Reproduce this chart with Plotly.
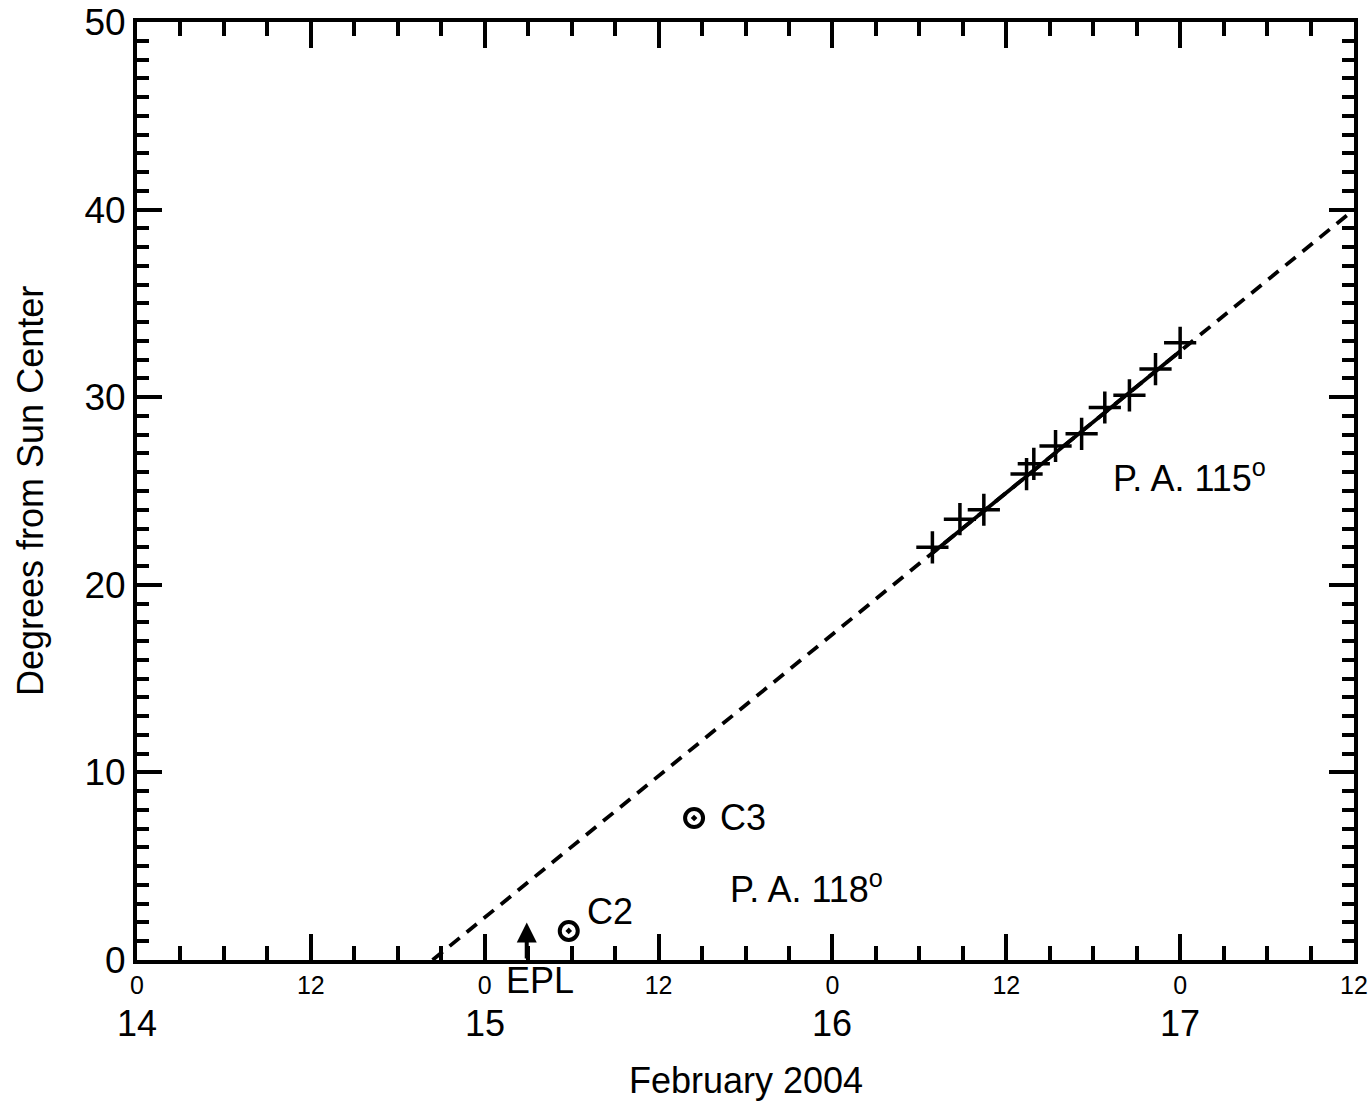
import plotly.graph_objects as go

# hours since 14 Feb 2004 00:00 UT
obs_hours = [54.9, 56.8, 58.45, 61.4, 61.9, 63.4, 65.2, 66.8, 68.5, 70.3, 72.0]
obs_elong = [22.0, 23.5, 24.0, 25.9, 26.45, 27.4, 28.05, 29.45, 30.1, 31.5, 32.9]

fit_hours = [20.4, 84.0]
fit_elong = [0.0, 40.0]
solid_hours = [54.9, 72.0]
solid_elong = [21.7, 32.45]

lasco_hours = [29.8, 38.45]
lasco_elong = [1.55, 7.57]
lasco_names = ["C2", "C3"]

epl_hour = 26.9
epl_tip = 2.0

hour_ticks = list(range(0, 85, 12))
hour_labels = ["0", "12", "0", "12", "0", "12", "0", "12"]
day_ticks = [0, 24, 48, 72]
day_labels = ["14", "15", "16", "17"]

FONT = "Liberation Sans, Arial, sans-serif"
BIG = 36
label_offsets = {"C2": (16, 19), "C3": (24, 0)}

fig = go.Figure()
fig.add_trace(go.Scatter(x=fit_hours, y=fit_elong, mode="lines",
                         line=dict(color="black", width=3.8, dash="13px,9px"),
                         showlegend=False, hoverinfo="skip"))
fig.add_trace(go.Scatter(x=solid_hours, y=solid_elong, mode="lines",
                         line=dict(color="black", width=3.8),
                         showlegend=False, hoverinfo="skip"))
fig.add_trace(go.Scatter(x=obs_hours, y=obs_elong, mode="markers",
                         marker=dict(symbol="cross-thin", size=23,
                                     line=dict(color="black", width=3.5)),
                         showlegend=False))
fig.add_trace(go.Scatter(x=lasco_hours, y=lasco_elong, mode="markers",
                         marker=dict(symbol="circle-open-dot", size=18, color="black",
                                     line=dict(color="black", width=4)),
                         showlegend=False))

# EPL arrow
fig.add_annotation(x=epl_hour, y=epl_tip, ax=epl_hour, ay=0, xref="x", yref="y",
                   axref="x", ayref="y", text="", showarrow=True,
                   arrowhead=2, arrowsize=1.0, arrowwidth=4, arrowcolor="black")
fig.add_annotation(x=27.8, y=0, xref="x", yref="y", yshift=-20,
                   text="EPL", showarrow=False, font=dict(family=FONT, size=BIG, color="black"),
                   yanchor="middle")

for h, e, n in zip(lasco_hours, lasco_elong, lasco_names):
    dx, dy = label_offsets[n]
    fig.add_annotation(x=h, y=e, xref="x", yref="y", xshift=dx, yshift=dy, text=n,
                       showarrow=False, xanchor="left",
                       font=dict(family=FONT, size=BIG, color="black"))

fig.add_annotation(x=40.8, y=3.9, xref="x", yref="y", text="P. A. 118<sup>o</sup>",
                   showarrow=False, xanchor="left",
                   font=dict(family=FONT, size=BIG, color="black"))
fig.add_annotation(x=67.2, y=25.8, xref="x", yref="y", text="P. A. 115<sup>o</sup>",
                   showarrow=False, xanchor="left",
                   font=dict(family=FONT, size=BIG, color="black"))

for d, lab in zip(day_ticks, day_labels):
    fig.add_annotation(x=d, y=0, xref="x", yref="paper", yshift=-63, text=lab,
                       showarrow=False, yanchor="middle",
                       font=dict(family=FONT, size=BIG, color="black"))

fig.add_annotation(x=0.5, y=0, xref="paper", yref="paper", yshift=-120,
                   text="February 2004", showarrow=False, yanchor="middle",
                   font=dict(family=FONT, size=BIG, color="black"))
fig.add_annotation(x=(30 - 137) / 1217, y=0.5, xref="paper", yref="paper",
                   text="Degrees from Sun Center", showarrow=False, textangle=-90,
                   xanchor="center", yanchor="middle",
                   font=dict(family=FONT, size=BIG, color="black"))

fig.update_xaxes(range=[0, 84], tickvals=hour_ticks, ticktext=hour_labels,
                 ticks="inside", ticklen=26, tickwidth=3.5, tickcolor="black",
                 minor=dict(dtick=3, ticks="inside", ticklen=14, tickwidth=3.5, tickcolor="black"),
                 showline=True, linewidth=4, linecolor="black", mirror="allticks",
                 showgrid=False, zeroline=False, automargin=False,
                 tickfont=dict(family=FONT, size=25, color="black"))
fig.update_yaxes(range=[0, 50], tickvals=[0, 10, 20, 30, 40, 50],
                 ticks="inside", ticklen=25, tickwidth=3.5, tickcolor="black",
                 minor=dict(dtick=1, ticks="inside", ticklen=12, tickwidth=3.5, tickcolor="black"),
                 showline=True, linewidth=4, linecolor="black", mirror="allticks",
                 showgrid=False, zeroline=False, automargin=False,
                 tickfont=dict(family=FONT, size=37, color="black"))

fig.update_layout(width=1370, height=1106, margin=dict(l=137, r=16, t=22, b=146),
                  plot_bgcolor="white", paper_bgcolor="white")

fig.write_html("out.html")
